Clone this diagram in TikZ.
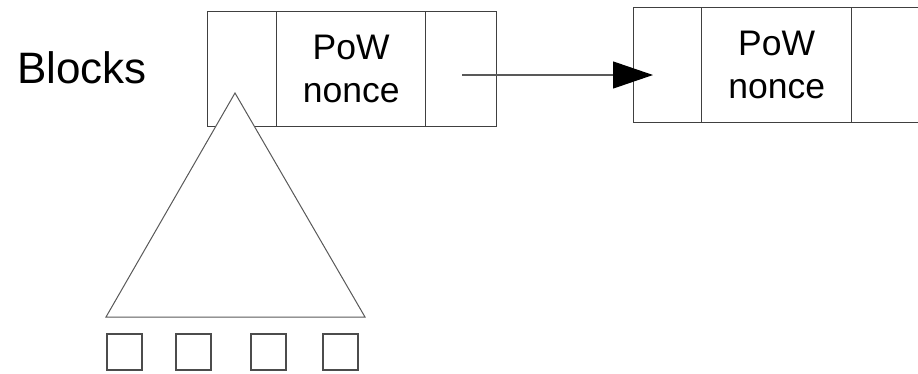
\documentclass[tikz,border=0pt]{standalone}
\usepackage{fontspec}
\setmainfont{Liberation Sans}
\usetikzlibrary{arrows.meta}

\tikzset{
  cell/.style={draw=black!75, line width=1.3pt, fill=white, rectangle,
    inner sep=0pt, minimum height=115pt, anchor=north west},
  celltext/.style={align=center, font=\fontsize{35.5}{43.5}\selectfont},
  leaf/.style={draw=black!70, line width=1.4pt, rectangle, inner sep=0pt,
    minimum width=35pt, minimum height=36pt},
  tree/.style={draw=black!65, line width=1pt, fill=white},
  link/.style={draw=black!65, line width=1.2pt,
    -{Triangle[length=40pt, width=27pt, color=black]}},
}

\begin{document}
\begin{tikzpicture}[x=1pt, y=-1pt]
  \useasboundingbox (0,0) rectangle (918,373);
  \clip (0,0) rectangle (918,373);

  % heading
  \node[anchor=base west, inner sep=0pt, font=\fontsize{44}{50}\selectfont]
    (title) at (17,83) {Blocks};

  % first block: link cell, proof-of-work cell, tail cell
  \node[cell, minimum width=69pt]  (b1l) at (207,11) {};
  \node[cell, minimum width=149pt, celltext] (b1m) at (276,11) {PoW\\nonce};
  \node[cell, minimum width=71pt]  (b1r) at (425,11) {};

  % second block
  \node[cell, minimum width=68pt]  (b2l) at (633,7) {};
  \node[cell, minimum width=150pt, celltext] (b2m) at (701,7) {PoW\\nonce};
  \node[cell, minimum width=71pt]  (b2r) at (851,7) {};

  % pointer from the first block to the next one
  \coordinate (from) at (462,75);
  \coordinate (to) at (653,75);
  \draw[link] (from) -- (to);

  % merkle tree hanging from the first block
  \coordinate (apex) at (235,93);
  \coordinate (baseL) at (106,317);
  \coordinate (baseR) at (365,317);
  \draw[tree] (apex) -- (baseR) -- (baseL) -- cycle;

  % transactions under the tree
  \node[leaf] (t1) at (124.5,352) {};
  \node[leaf] (t2) at (193.5,352) {};
  \node[leaf] (t3) at (268.5,352) {};
  \node[leaf] (t4) at (340.5,352) {};
\end{tikzpicture}
\end{document}
